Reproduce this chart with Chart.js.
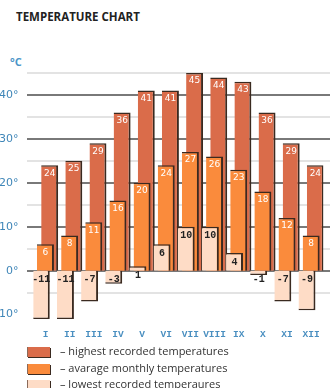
<!DOCTYPE html>
<html>
<head>
<meta charset="utf-8">
<script src="https://cdn.jsdelivr.net/npm/chart.js@4.4.1/dist/chart.umd.min.js"></script>
<style>
  body { margin: 0; width: 330px; height: 388px; overflow: hidden; background: #fff; position: relative; font-family: "Open Sans", sans-serif; }
  #title { position: absolute; left: 16px; top: 9px; font: bold 11.5px "Open Sans", sans-serif; color: #222; }
  #unit { position: absolute; left: 10px; top: 54px; font: bold 11px "Open Sans", sans-serif; color: #4a95c8; }
  #chart { position: absolute; left: 0; top: 0; }
  .leg { position: absolute; left: 27px; font-size: 11px; color: #333; white-space: nowrap; }
  .leg span.box { position: absolute; left: 0; top: 0; width: 22px; height: 10px; box-shadow: 1px 1px 0 #3a2a20; border-left: 1px solid #8a6a5a; }
  .leg span.txt { position: absolute; left: 33px; top: -4px; }
</style>
</head>
<body>
<div id="title">TEMPERATURE CHART</div>
<div id="unit">°C</div>
<canvas id="chart" width="330" height="388"></canvas>
<div id="legend"></div>
<script>
// months (roman numerals)
const months = ['I', 'II', 'III', 'IV', 'V', 'VI', 'VII', 'VIII', 'IX', 'X', 'XI', 'XII'];

// temperatures in °C
const highest = [24, 25, 29, 36, 41, 41, 45, 44, 43, 36, 29, 24];
const average = [6, 8, 11, 16, 20, 24, 27, 26, 23, 18, 12, 8];
const lowest = [-11, -11, -7, -3, 1, 6, 10, 10, 4, -1, -7, -9];

const legendLabels = [
    '– highest recorded temperatures',
    '– avarage monthly temperatures',
    '– lowest recorded temperaures'
];

const colHigh = '#da6c4a';
const colAvg = '#fa8b3c';
const colLow = '#fedcc6';
const edge = '#3a2a20';

// legend built by hand
const legend = document.getElementById('legend');
[colHigh, colAvg, colLow].forEach((c, i) => {
    const div = document.createElement('div');
    div.className = 'leg';
    div.style.top = (347 + i * 16.5) + 'px';
    div.innerHTML = `<span class="box" style="background:${c}"></span><span class="txt">${legendLabels[i]}</span>`;
    legend.appendChild(div);
});

// horizontal grid lines, drawn behind the bars
const gridPlugin = {
    id: 'gridLines',
    beforeDatasetsDraw(chart) {
        const ctx = chart.ctx;
        const y = chart.scales.y;
        ctx.save();
        for (let v = -5; v <= 45; v += 5) {
            const py = Math.round(y.getPixelForValue(v));
            ctx.beginPath();
            ctx.lineWidth = 1.5;
            ctx.strokeStyle = v % 10 === 0 ? '#4d4d4d' : '#dadada';
            ctx.moveTo(27, py);
            ctx.lineTo(330, py);
            ctx.stroke();
        }
        ctx.restore();
    }
};

// value labels near the top edge of each bar
const labelPlugin = {
    id: 'barLabels',
    afterDatasetsDraw(chart) {
        const ctx = chart.ctx;
        ctx.save();
        ctx.textAlign = 'center';
        ctx.textBaseline = 'middle';
        for (let d = chart.data.datasets.length - 1; d >= 0; d--) {
            const ds = chart.data.datasets[d];
            const meta = chart.getDatasetMeta(d);
            meta.data.forEach((bar, i) => {
                const top = Math.min(bar.y, bar.base);
                if (d === 0) {
                    ctx.font = 'bold 10px "Liberation Mono", monospace';
                    ctx.fillStyle = '#222';
                    ctx.fillText(ds.data[i], bar.x, top + 9);
                } else {
                    ctx.font = '9px "DejaVu Sans", sans-serif';
                    ctx.fillStyle = '#fff';
                    ctx.fillText(ds.data[i], bar.x, top + 8);
                }
            });
        }
        ctx.restore();
    }
};

const barStyle = {
    borderColor: edge,
    borderWidth: { top: 1.5, right: 2, bottom: 1.5, left: 0 },
    categoryPercentage: 0.52,
    barPercentage: 4.05
};

new Chart(document.getElementById('chart'), {
    type: 'bar',
    data: {
        labels: months,
        datasets: [
            { label: 'lowest', data: lowest, backgroundColor: colLow, ...barStyle },
            { label: 'average', data: average, backgroundColor: colAvg, ...barStyle },
            { label: 'highest', data: highest, backgroundColor: colHigh, ...barStyle }
        ]
    },
    plugins: [gridPlugin, labelPlugin],
    options: {
        responsive: false,
        animation: false,
        layout: { padding: { top: 73, bottom: 45, left: 0, right: 6.6 } },
        plugins: {
            legend: { display: false },
            title: { display: false },
            tooltip: { enabled: false }
        },
        scales: {
            x: {
                grid: { display: false, drawTicks: false },
                border: { display: false },
                afterFit: scale => { scale.height = 24; },
                ticks: {
                    padding: 10,
                    maxRotation: 0,
                    minRotation: 0,
                    autoSkip: false,
                    color: '#4a8fc0',
                    font: { family: '"Liberation Mono", monospace', size: 9.5, weight: 'bold' }
                }
            },
            y: {
                min: -11,
                max: 45,
                grid: { display: false },
                border: { display: false },
                afterFit: scale => { scale.width = 33.4; },
                ticks: {
                    stepSize: 5,
                    includeBounds: false,
                    padding: 7,
                    color: '#3f86b8',
                    font: { family: '"DejaVu Sans", sans-serif', size: 11 },
                    callback: value => (value % 10 === 0 ? value + '°' : '')
                }
            }
        }
    }
});
</script>
</body>
</html>
